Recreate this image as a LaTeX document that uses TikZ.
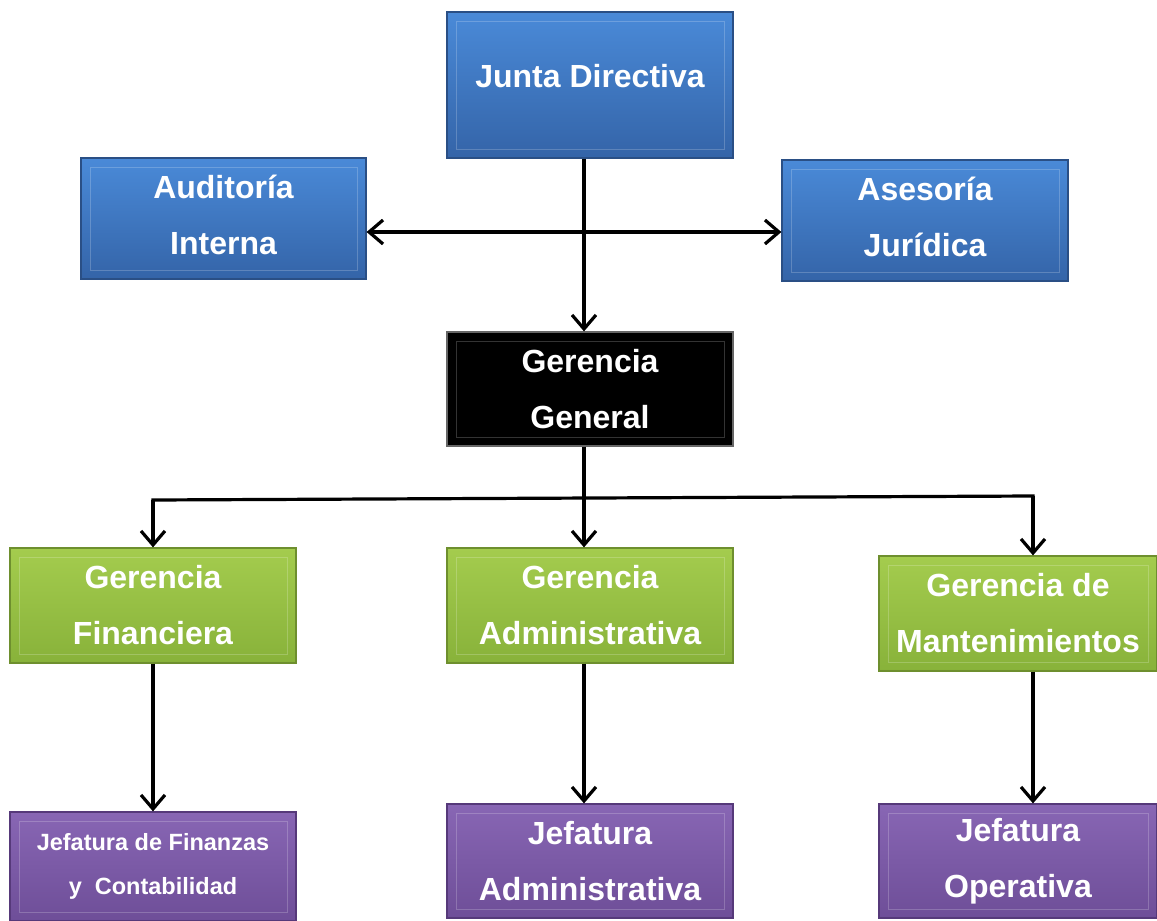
\documentclass[tikz,border=0pt]{standalone}
\usepackage{fontspec}
\setmainfont{Liberation Sans}
\usetikzlibrary{arrows.meta}
\definecolor{bluetop}{HTML}{4A8AD8}
\definecolor{bluebot}{HTML}{3464A8}
\definecolor{blueedge}{HTML}{2A4F85}
\definecolor{greentop}{HTML}{A4CC4E}
\definecolor{greenbot}{HTML}{88B23A}
\definecolor{greenedge}{HTML}{6E8F2E}
\definecolor{purptop}{HTML}{8866B4}
\definecolor{purpbot}{HTML}{6E4E98}
\definecolor{purpedge}{HTML}{56397A}
\newcommand{\twolines}[3]{\raisebox{#1}[0pt][0pt]{\begin{tabular}{@{}c@{}}#2\\#3\end{tabular}}}
\tikzset{
  orgbox/.style={rectangle, inner sep=0pt, align=center, text=white,
    font=\bfseries\fontsize{32}{56}\selectfont, line width=1.2pt,
    path picture={\draw[white, opacity=0.2, line width=1pt]
      ([shift={(9pt,-9pt)}]path picture bounding box.north west) rectangle
      ([shift={(-9pt,9pt)}]path picture bounding box.south east);}},
  bluebox/.style={orgbox, draw=blueedge, top color=bluetop, bottom color=bluebot},
  greenbox/.style={orgbox, draw=greenedge, top color=greentop, bottom color=greenbot},
  purpbox/.style={orgbox, draw=purpedge, top color=purptop, bottom color=purpbot},
  blackbox/.style={orgbox, draw=black!60, fill=black},
  conn/.style={line width=3.2pt, black},
  arr/.style={conn, -{Straight Barb[length=14pt,width=24pt,line width=3.2pt]}},
  darr/.style={conn, {Straight Barb[length=14pt,width=24pt,line width=3.2pt]}-{Straight Barb[length=14pt,width=24pt,line width=3.2pt]}}
}
\begin{document}
\begin{tikzpicture}[x=1pt,y=-1pt]
\useasboundingbox (0,0) rectangle (1157,921);
\fill[white] (0,0) rectangle (1157,921);
\node[bluebox, minimum width=286pt, minimum height=146pt] (junta) at (590,85) {\raisebox{-2.5pt}[0pt][0pt]{Junta Directiva}};
\node[bluebox, minimum width=285pt, minimum height=121pt] (aud) at (223.5,218.5) {\twolines{-3pt}{Auditoría}{Interna}};
\node[bluebox, minimum width=286pt, minimum height=121pt] (ase) at (925,220.5) {\twolines{-3pt}{Asesoría}{Jurídica}};
\node[blackbox, minimum width=286pt, minimum height=114pt] (gg) at (590,389) {Gerencia\\General};
\node[greenbox, minimum width=286pt, minimum height=115pt] (gf) at (153,605.5) {Gerencia\\Financiera};
\node[greenbox, minimum width=286pt, minimum height=115pt] (ga) at (590,605.5) {Gerencia\\Administrativa};
\node[greenbox, minimum width=278pt, minimum height=115pt] (gm) at (1018,613.5) {Gerencia de\\Mantenimientos};
\node[purpbox, minimum width=286pt, minimum height=109pt, font=\bfseries\fontsize{23.5}{44}\selectfont] (jf) at (153,866.5) {Jefatura de Finanzas\\y\ \ Contabilidad};
\node[purpbox, minimum width=286pt, minimum height=114pt] (ja) at (590,861) {Jefatura\\Administrativa};
\node[purpbox, minimum width=278pt, minimum height=114pt] (jo) at (1018,861) {Jefatura\\Operativa};
\coordinate (cx) at (584,0);
\coordinate (lx) at (153,0);
\coordinate (rx) at (1033,0);
\coordinate (hub) at (584,498);
\coordinate (hl) at (153,500);
\coordinate (hr) at (1033,496);
\draw[arr] (junta.south -| cx) -- (gg.north -| cx);
\draw[darr] (aud.east |- 0,232) -- (ase.west |- 0,232);
\draw[conn] (gg.south -| cx) -- (hub);
\draw[conn, line cap=rect] (hl) -- (hr);
\draw[arr] (hl) -- (gf.north -| lx);
\draw[arr] (hub) -- (ga.north -| cx);
\draw[arr] (hr) -- (gm.north -| rx);
\draw[arr] (gf.south -| lx) -- (jf.north -| lx);
\draw[arr] (ga.south -| cx) -- (ja.north -| cx);
\draw[arr] (gm.south -| rx) -- (jo.north -| rx);
\end{tikzpicture}
\end{document}
